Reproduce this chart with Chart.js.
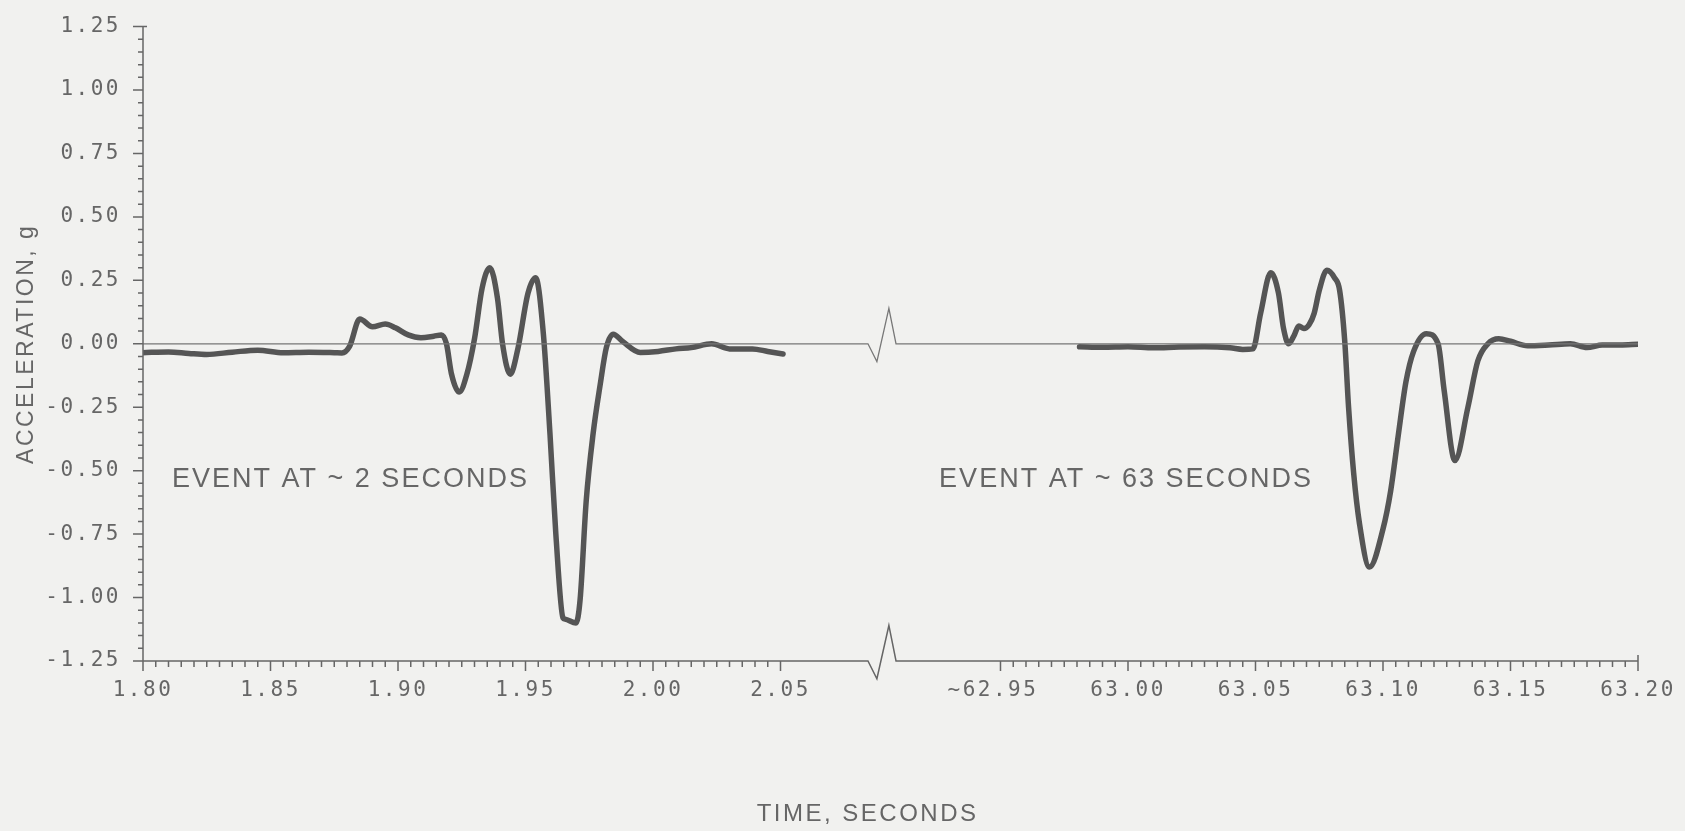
<!DOCTYPE html>
<html>
<head>
<meta charset="utf-8">
<title>Acceleration events</title>
<script src="https://cdn.jsdelivr.net/npm/chart.js@4.4.1/dist/chart.umd.min.js"></script>
<style>
  html, body { margin: 0; padding: 0; background: #f1f1ef; }
  #wrap { width: 1685px; height: 831px; }
</style>
</head>
<body>
<div id="wrap"><canvas id="accelChart" width="1685" height="831"></canvas></div>
<script>
// event near 2 s : time (s) and acceleration (g)
var timeEarly = [1.800, 1.810, 1.818, 1.825, 1.835, 1.845, 1.855, 1.865, 1.875, 1.878,
                 1.881, 1.885, 1.890, 1.895, 1.899, 1.904, 1.909, 1.914, 1.917, 1.919,
                 1.921, 1.924, 1.927, 1.930, 1.933, 1.936, 1.939, 1.941, 1.944, 1.947,
                 1.951, 1.954, 1.957, 1.9596, 1.9619, 1.9647, 1.9655, 1.9698, 1.9714, 1.9738,
                 1.9765, 1.9793, 1.9817, 1.9844, 1.988, 1.995, 2.002, 2.009, 2.015, 2.023,
                 2.030, 2.039, 2.045, 2.051];
var accelEarly = [-0.035, -0.032, -0.038, -0.042, -0.033, -0.025, -0.035, -0.033, -0.035, -0.036,
                  -0.010, 0.098, 0.067, 0.078, 0.063, 0.035, 0.024, 0.030, 0.035, 0.000,
                  -0.120, -0.190, -0.120, 0.020, 0.220, 0.300, 0.180, 0.000, -0.120, -0.020,
                  0.200, 0.260, 0.040, -0.355, -0.750, -1.080, -1.085, -1.100, -1.010, -0.620,
                  -0.355, -0.160, -0.015, 0.038, 0.010, -0.034, -0.030, -0.020, -0.015, 0.000,
                  -0.020, -0.020, -0.030, -0.040];

// event near 63 s
var timeLate = [62.981, 62.990, 63.000, 63.010, 63.020, 63.030, 63.040, 63.045, 63.049, 63.052,
                63.056, 63.059, 63.061, 63.063, 63.065, 63.067, 63.069, 63.071, 63.073, 63.075,
                63.078, 63.081, 63.083, 63.085, 63.0865, 63.0885, 63.0908, 63.0947, 63.100, 63.103,
                63.106, 63.109, 63.112, 63.117, 63.1216, 63.124, 63.1282, 63.1333, 63.1372, 63.1411,
                63.1454, 63.150, 63.1567, 63.165, 63.1735, 63.180, 63.186, 63.193, 63.200];
var accelLate = [-0.012, -0.014, -0.012, -0.016, -0.013, -0.012, -0.016, -0.022, -0.020, 0.120,
                 0.280, 0.200, 0.060, 0.000, 0.030, 0.070, 0.060, 0.075, 0.120, 0.210,
                 0.290, 0.260, 0.210, 0.010, -0.250, -0.510, -0.710, -0.880, -0.730, -0.580,
                 -0.360, -0.150, -0.030, 0.040, 0.000, -0.185, -0.460, -0.250, -0.067, 0.000,
                 0.020, 0.010, -0.008, -0.005, 0.000, -0.015, -0.005, -0.005, -0.002];

// the x axis is broken: late times slide left so both windows share one scale
var lateShift = 60.81373;
var xMax = 63.20 - lateShift;

var xTickTimes = [1.80, 1.85, 1.90, 1.95, 2.00, 2.05, 62.95, 63.00, 63.05, 63.10, 63.15, 63.20];
var xTickLabels = ['1.80', '1.85', '1.90', '1.95', '2.00', '2.05', '~62.95 ', '63.00', '63.05', '63.10', '63.15', '63.20'];

// axis-break symbol (axis units) on the zero line and on the time axis
var breakX = [2.0843, 2.0878, 2.0925, 2.0953];
var breakY = [0, -0.07, 0.14, 0];

var notes = ['EVENT AT ~ 2 SECONDS', 'EVENT AT ~ 63 SECONDS'];

var inkColor = '#666666';
var traceColor = '#555555';

function toPoints(times, values, shift) {
    var pts = [];
    for (var i = 0; i < times.length; i++) {
        pts.push({x: times[i] - shift, y: values[i]});
    }
    return pts;
}

var zeroLine = [{x: 1.80, y: 0}];
for (var b = 0; b < breakX.length; b++) {
    zeroLine.push({x: breakX[b], y: breakY[b]});
}
zeroLine.push({x: xMax, y: 0});

// axes, ticks and notes in the pen-plotter style
var plotterPlugin = {
    id: 'plotter',
    beforeDraw: function(chart) {
        chart.ctx.letterSpacing = '2.5px';
    },
    afterDatasetsDraw: function(chart) {
        var ctx = chart.ctx;
        var xs = chart.scales.x, ys = chart.scales.y;
        ctx.save();
        ctx.letterSpacing = '2px';
        ctx.font = '27px "Liberation Sans"';
        ctx.fillStyle = inkColor;
        ctx.textAlign = 'left';
        ctx.textBaseline = 'middle';
        ctx.fillText(notes[0], xs.getPixelForValue(1.8114), ys.getPixelForValue(-0.535));
        ctx.fillText(notes[1], xs.getPixelForValue(2.1122), ys.getPixelForValue(-0.535));
        ctx.restore();
    },
    afterDraw: function(chart) {
        var ctx = chart.ctx;
        var xs = chart.scales.x, ys = chart.scales.y;
        var area = chart.chartArea;
        ctx.save();
        ctx.strokeStyle = inkColor;
        ctx.lineWidth = 1.5;
        ctx.beginPath();

        // y axis
        ctx.moveTo(area.left + 4, area.top);
        ctx.lineTo(area.left, area.top);
        ctx.lineTo(area.left, area.bottom);
        for (var k = 0; k <= 50; k++) {
            var py = ys.getPixelForValue(-1.25 + k * 0.05);
            ctx.moveTo(area.left, py);
            ctx.lineTo(area.left - (k % 5 === 0 ? 10 : 5), py);
        }

        // time axis with break
        ctx.moveTo(area.left, area.bottom);
        for (var i = 0; i < breakX.length; i++) {
            ctx.lineTo(xs.getPixelForValue(breakX[i]), ys.getPixelForValue(-1.25 + breakY[i]));
        }
        ctx.lineTo(area.right, area.bottom);
        ctx.lineTo(area.right, area.bottom - 6);

        [1.80, 62.95].forEach(function(t0) {
            var shift = t0 > 10 ? lateShift : 0;
            for (var j = 0; j <= 50; j++) {
                var px = xs.getPixelForValue(t0 + j * 0.005 - shift);
                ctx.moveTo(px, area.bottom);
                ctx.lineTo(px, area.bottom + (j % 10 === 0 ? 10 : 6));
            }
        });
        ctx.stroke();
        ctx.restore();
    }
};

new Chart(document.getElementById('accelChart'), {
    type: 'line',
    data: {
        datasets: [
            {
                label: 'zero',
                data: zeroLine,
                borderColor: '#777777',
                borderWidth: 1.3,
                pointRadius: 0,
                tension: 0,
                clip: false
            },
            {
                label: 'Event at ~2 s',
                data: toPoints(timeEarly, accelEarly, 0),
                borderColor: traceColor,
                borderWidth: 5.5,
                pointRadius: 0,
                cubicInterpolationMode: 'monotone',
                borderJoinStyle: 'round',
                borderCapStyle: 'round'
            },
            {
                label: 'Event at ~63 s',
                data: toPoints(timeLate, accelLate, lateShift),
                borderColor: traceColor,
                borderWidth: 5.5,
                pointRadius: 0,
                cubicInterpolationMode: 'monotone',
                borderJoinStyle: 'round',
                borderCapStyle: 'round'
            }
        ]
    },
    options: {
        responsive: false,
        animation: false,
        layout: { padding: { top: 24, right: 47, bottom: 0, left: 0 } },
        plugins: {
            legend: { display: false },
            tooltip: { enabled: false }
        },
        scales: {
            x: {
                type: 'linear',
                min: 1.80,
                max: xMax,
                grid: { display: false },
                border: { display: false },
                afterBuildTicks: function(scale) {
                    scale.ticks = xTickTimes.map(function(t) {
                        return {value: t > 10 ? t - lateShift : t};
                    });
                },
                afterFit: function(scale) { scale.height = 170; },
                ticks: {
                    autoSkip: false,
                    maxRotation: 0,
                    padding: 9,
                    color: inkColor,
                    font: { family: '"DejaVu Sans Mono"', size: 21 },
                    callback: function(value, index) { return xTickLabels[index]; }
                },
                title: {
                    display: true,
                    text: 'TIME, SECONDS     ',
                    color: inkColor,
                    font: { family: '"Liberation Sans"', size: 24 },
                    padding: { top: 0, bottom: 2 }
                }
            },
            y: {
                min: -1.25,
                max: 1.25,
                grid: { display: false },
                border: { display: false },
                afterFit: function(scale) { scale.width = 143; },
                ticks: {
                    stepSize: 0.25,
                    padding: 14,
                    color: inkColor,
                    font: { family: '"DejaVu Sans Mono"', size: 21 },
                    callback: function(value) { return value.toFixed(2); }
                },
                title: {
                    display: true,
                    text: 'ACCELERATION, g',
                    color: inkColor,
                    font: { family: '"Liberation Sans"', size: 23 },
                    padding: { top: 13, bottom: 0 }
                }
            }
        }
    },
    plugins: [plotterPlugin]
});
</script>
</body>
</html>
